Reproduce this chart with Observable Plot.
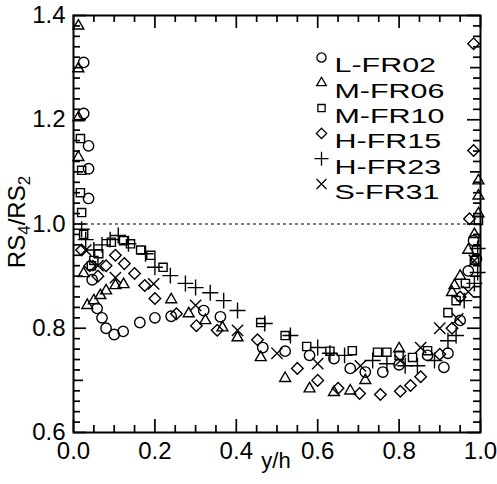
<!DOCTYPE html>
<html><head><meta charset="utf-8">
<script src="https://cdn.jsdelivr.net/npm/d3@7"></script>
<script src="https://cdn.jsdelivr.net/npm/@observablehq/plot@0.6"></script>
<style>html,body{margin:0;padding:0;background:#fff}svg{display:block}</style>
</head><body><div id="chart"></div>
<script>
const seriesNames = ["L-FR02","M-FR06","M-FR10","H-FR15","H-FR23","S-FR31"];
const symbolNames = ["circle","triangle2","square2","diamond2","plus","times"];

const lfr02X = [0.025,0.025,0.037,0.037,0.037,0.046,0.058,0.07,0.08,0.10,0.122,0.163,0.20,0.24,0.32,0.361,0.465,0.52,0.58,0.64,0.68,0.717,0.76,0.80,0.87,0.91,0.92,0.95,0.97,0.983,0.99];
const lfr02Y = [1.31,1.212,1.15,1.106,1.049,0.893,0.838,0.82,0.80,0.788,0.794,0.811,0.82,0.823,0.834,0.822,0.763,0.756,0.748,0.742,0.723,0.716,0.716,0.73,0.748,0.725,0.752,0.815,0.91,0.968,0.933];

const mfr06X = [0.012,0.012,0.012,0.012,0.025,0.034,0.05,0.066,0.08,0.103,0.123,0.24,0.283,0.324,0.366,0.403,0.46,0.52,0.58,0.64,0.68,0.717,0.80,0.93,0.936,0.95,0.97,0.985,0.995,0.995,0.995];
const mfr06Y = [1.38,1.298,1.204,1.128,0.905,0.844,0.853,0.863,0.872,0.882,0.884,0.855,0.828,0.815,0.801,0.782,0.744,0.704,0.684,0.677,0.68,0.70,0.761,0.869,0.882,0.90,0.95,0.98,1.02,1.054,1.083];

const mfr10X = [0.017,0.02,0.017,0.02,0.025,0.044,0.05,0.062,0.093,0.123,0.14,0.165,0.19,0.22,0.46,0.52,0.573,0.63,0.685,0.747,0.77,0.80,0.833,0.87,0.92,0.94,0.963,0.985,0.99,0.995];
const mfr10Y = [1.164,1.103,1.06,1.022,0.98,0.92,0.93,0.943,0.965,0.968,0.962,0.95,0.94,0.917,0.811,0.786,0.765,0.756,0.757,0.754,0.754,0.748,0.744,0.757,0.83,0.853,0.886,0.93,0.95,1.007];

const hfr15X = [0.02,0.04,0.06,0.08,0.103,0.125,0.15,0.175,0.20,0.253,0.302,0.353,0.452,0.55,0.60,0.65,0.703,0.754,0.803,0.828,0.853,0.90,0.93,0.95,0.973,0.983,0.983];
const hfr15Y = [0.95,0.92,0.90,0.92,0.94,0.924,0.905,0.882,0.857,0.828,0.805,0.796,0.778,0.723,0.70,0.685,0.675,0.673,0.679,0.69,0.707,0.75,0.80,0.86,1.01,1.141,1.346];

const hfr23X = [0.02,0.03,0.05,0.07,0.09,0.11,0.135,0.177,0.20,0.238,0.275,0.30,0.336,0.369,0.403,0.47,0.533,0.60,0.63,0.666,0.735,0.77,0.815,0.845,0.887,0.92,0.94,0.96,0.985,0.993,0.993];
const hfr23Y = [0.99,0.97,0.95,0.96,0.97,0.978,0.962,0.943,0.917,0.901,0.886,0.878,0.868,0.853,0.834,0.809,0.786,0.763,0.752,0.748,0.738,0.732,0.728,0.728,0.738,0.776,0.786,0.853,0.886,0.907,0.953];

const sfr31X = [0.03,0.06,0.103,0.197,0.30,0.403,0.50,0.60,0.705,0.803,0.853,0.90,0.944,0.97,0.985];
const sfr31Y = [0.95,0.92,0.897,0.885,0.844,0.796,0.752,0.732,0.728,0.738,0.763,0.80,0.818,0.87,0.93];

const xTicks = [0, 0.2, 0.4, 0.6, 0.8, 1.0];
const xTickLabels = ["0.0","0.2","0.4","0.6","0.8","1.0"];
const yTicks = [0.6, 0.8, 1.0, 1.2, 1.4];
const yTickLabels = ["0.6","0.8","1.0","1.2","1.4"];
const refLine = [1.0];
const xLabel = "y/h";

const allX = [lfr02X, mfr06X, mfr10X, hfr15X, hfr23X, sfr31X];
const allY = [lfr02Y, mfr06Y, mfr10Y, hfr15Y, hfr23Y, sfr31Y];
const rows = [];
seriesNames.forEach((s, k) => allX[k].forEach((x, i) => rows.push({series: s, x, y: allY[k][i]})));

const W = 497, H = 484, mL = 73, mR = 17, mT = 15, mB = 52;
const pw = W - mL - mR, ph = H - mT - mB;
const font = "'Liberation Sans', Arial, Helvetica, sans-serif";

const isMultiple = (v, step) => Math.abs(Math.round(v / step) - v / step) < 1e-6;
const xMinor = d3.range(0, 1.0001, 0.05).filter(v => !isMultiple(v, 0.2));
const yAll = d3.range(0.6, 1.4001, 0.02);
const yMinor = yAll.filter(v => !isMultiple(v, 0.1));
const yMid = yAll.filter(v => isMultiple(v, 0.1) && !isMultiple(v, 0.2));

const tickW = 1.7;
const marks = [
  Plot.frame({strokeWidth: 2}),
  Plot.tickX(xTicks, {x: d => d, insetTop: ph - 13, strokeWidth: tickW}),
  Plot.tickX(xMinor, {x: d => d, insetTop: ph - 7, strokeWidth: tickW}),
  Plot.tickX(xTicks, {x: d => d, insetBottom: ph - 13, strokeWidth: tickW}),
  Plot.tickX(xMinor, {x: d => d, insetBottom: ph - 7, strokeWidth: tickW}),
  Plot.tickY(yTicks, {y: d => d, insetRight: pw - 13, strokeWidth: tickW}),
  Plot.tickY(yMid, {y: d => d, insetRight: pw - 10, strokeWidth: tickW}),
  Plot.tickY(yMinor, {y: d => d, insetRight: pw - 7, strokeWidth: tickW}),
  Plot.tickY(yTicks, {y: d => d, insetLeft: pw - 13, strokeWidth: tickW}),
  Plot.tickY(yMid, {y: d => d, insetLeft: pw - 10, strokeWidth: tickW}),
  Plot.tickY(yMinor, {y: d => d, insetLeft: pw - 7, strokeWidth: tickW}),
  Plot.axisX(xTicks, {anchor: "bottom", tickSize: 0, tickPadding: 9, fontSize: 24,
    tickFormat: d => xTickLabels[xTicks.indexOf(d)], label: null}),
  Plot.axisY(yTicks, {anchor: "left", tickSize: 0, tickPadding: 8, fontSize: 24,
    tickFormat: d => yTickLabels[yTicks.indexOf(d)], label: null}),
  Plot.ruleY(refLine, {strokeDasharray: "3,3", strokeWidth: 1.2}),
  Plot.dot(rows, {x: "x", y: "y", symbol: "series", r: 5.2, stroke: "black", fill: "none", strokeWidth: 1.4})
];
seriesNames.forEach((s, i) => {
  marks.push(Plot.dot([s], {frameAnchor: "top-left", dx: 321 - mL, dy: 42 + i * 25.3, symbol: d => d,
    r: 4.6, stroke: "black", fill: "none", strokeWidth: 1.3}));
  marks.push(Plot.text([s], {frameAnchor: "top-left", dx: 334 - mL, dy: 42 + i * 25.3, text: d => d,
    textAnchor: "start", fontSize: 21}));
});

const chart = Plot.plot({
  width: W, height: H, marginLeft: mL, marginRight: mR, marginTop: mT, marginBottom: mB,
  x: {domain: [0, 1]},
  y: {domain: [0.6, 1.4]},
  symbol: {domain: seriesNames, range: symbolNames},
  style: {fontFamily: font, background: "white", color: "black"},
  marks
});
document.getElementById("chart").appendChild(chart);

const svg = d3.select(chart);
// widen legend labels to match the reference's wide lettering
svg.selectAll("text").filter(function() { return seriesNames.includes(this.textContent); }).each(function() {
  const w = this.getComputedTextLength();
  d3.select(this).attr("textLength", w * 1.45).attr("lengthAdjust", "spacingAndGlyphs");
});
svg.append("text").attr("x", 276).attr("y", 468).attr("text-anchor", "middle")
  .attr("font-size", 22).attr("font-family", font).attr("fill", "black").text(xLabel);
const yt = svg.append("text").attr("transform", "translate(25,222) rotate(-90)")
  .attr("text-anchor", "middle").attr("font-size", 24).attr("font-family", font).attr("fill", "black");
yt.append("tspan").text("RS");
yt.append("tspan").attr("font-size", 17).attr("dy", 5).text("4");
yt.append("tspan").attr("dy", -5).text("/RS");
yt.append("tspan").attr("font-size", 17).attr("dy", 5).text("2");
</script>
</body></html>
